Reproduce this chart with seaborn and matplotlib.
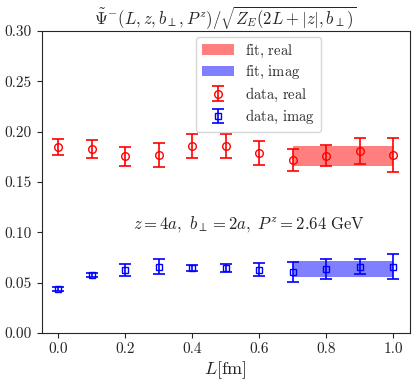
import numpy as np
import matplotlib
matplotlib.use("Agg")
import matplotlib.pyplot as plt
import seaborn as sns

# data
L_vals = [0.0, 0.1, 0.2, 0.3, 0.4, 0.5, 0.6, 0.7, 0.8, 0.9, 1.0]
real_vals = [0.185, 0.1825, 0.1755, 0.177, 0.1853, 0.1853, 0.1788, 0.1715, 0.1762, 0.1808, 0.1768]
real_errs = [0.008, 0.009, 0.0095, 0.012, 0.012, 0.012, 0.012, 0.011, 0.010, 0.0128, 0.0165]
imag_vals = [0.0437, 0.0573, 0.0626, 0.0659, 0.0649, 0.0643, 0.063, 0.0603, 0.0633, 0.0659, 0.0659]
imag_errs = [0.002, 0.002, 0.006, 0.0073, 0.003, 0.004, 0.0065, 0.010, 0.0097, 0.0076, 0.0123]

fit_range = [0.7, 1.0]
fit_real = (0.1757, 0.0104)
fit_imag = (0.0638, 0.0080)

sns.set_style("ticks")
plt.rcParams['font.family'] = ['serif']
plt.rcParams['font.serif'] = ['cmr10', 'DejaVu Serif']
plt.rcParams['mathtext.fontset'] = 'cm'
plt.rcParams['axes.formatter.use_mathtext'] = True
plt.rcParams['axes.unicode_minus'] = False

fig, ax = plt.subplots(figsize=(4.16, 3.85), dpi=100)

fx = np.array(fit_range)
ax.fill_between(fx, fit_real[0] - fit_real[1], fit_real[0] + fit_real[1],
                color='red', alpha=0.5, lw=0, label=r'$\rm fit,\,real$')
ax.fill_between(fx, fit_imag[0] - fit_imag[1], fit_imag[0] + fit_imag[1],
                color='blue', alpha=0.5, lw=0, label=r'$\rm fit,\,imag$')

ax.errorbar(L_vals, real_vals, yerr=real_errs, fmt='o', mfc='none', color='red',
            ms=5.5, capsize=4, elinewidth=1.2, capthick=1.2, label=r'$\rm data,\,real$')
ax.errorbar(L_vals, imag_vals, yerr=imag_errs, fmt='s', mfc='none', color='blue',
            ms=4.5, capsize=4, elinewidth=1.2, capthick=1.2, label=r'$\rm data,\,imag$')

ax.text(0.57, 0.108, r'$z=4a,\ b_\perp=2a,\ P^z=2.64\ \rm GeV$', ha='center', va='center',
        fontsize=12)

ax.set_xlim(-0.05, 1.05)
ax.set_ylim(0.0, 0.30)
ax.set_xticks([0.0, 0.2, 0.4, 0.6, 0.8, 1.0])
ax.set_yticks([0.0, 0.05, 0.10, 0.15, 0.20, 0.25, 0.30])
ax.set_xticklabels([f"{v:.1f}" for v in ax.get_xticks()], fontsize=11)
ax.set_yticklabels([f"{v:.2f}" for v in ax.get_yticks()], fontsize=11)
ax.set_xlabel(r'$L[{\rm fm}]$', fontsize=13, labelpad=2)
ax.set_title(r'$\tilde{\Psi}^{-}(L,z,b_\perp,P^z)/\sqrt{Z_E(2L+|z|,b_\perp)}$', fontsize=12, pad=4)

ax.legend(loc='upper right', bbox_to_anchor=(0.77, 0.995), fontsize=10.5, framealpha=0.8,
          handlelength=2.2, handletextpad=0.8, labelspacing=0.3, borderaxespad=0.3)

plt.subplots_adjust(left=0.1, right=0.985, top=0.92, bottom=0.135)
plt.savefig("out.png", dpi=100)
plt.close()
